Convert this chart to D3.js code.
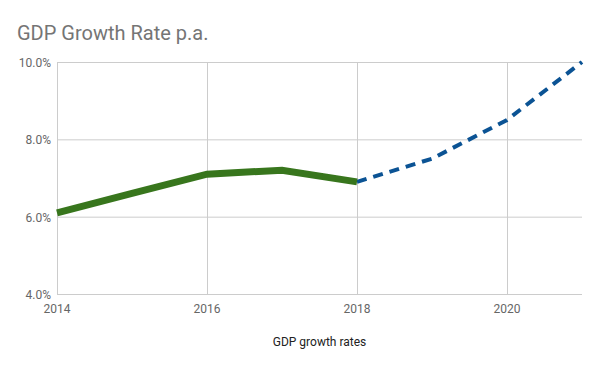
<!DOCTYPE html>
<html><head><meta charset="utf-8">
<script src="https://cdn.jsdelivr.net/npm/d3@7"></script>
<style>body{margin:0;background:#fff;font-family:Roboto,sans-serif}</style>
</head><body><svg id="c" width="600" height="367"></svg>
<script>
const actualYears = [2014, 2015, 2016, 2017, 2018];
const actualValues = [6.1, 6.6, 7.1, 7.2, 6.9];
const forecastYears = [2018, 2019, 2020, 2021];
const forecastValues = [6.9, 7.5, 8.5, 10.0];
const yTicks = [4, 6, 8, 10];
const xTicks = [2014, 2016, 2018, 2020];
const title = "GDP Growth Rate p.a.";
const xTitle = "GDP growth rates";

const svg = d3.select("#c");
const m = {l:57, r:18, t:62, b:73};
const W = 600, H = 367;
const x = d3.scaleLinear().domain([2014, 2021]).range([m.l, W - m.r]);
const y = d3.scaleLinear().domain([4, 10]).range([H - m.b, m.t]);

svg.append("rect").attr("width", W).attr("height", H).attr("fill", "#fff");
svg.append("text").attr("x", 17).attr("y", 40).attr("fill", "#757575")
  .attr("font-size", 20).text(title);

// horizontal grid
svg.append("g").selectAll("line").data(yTicks).join("line")
  .attr("x1", m.l).attr("x2", W - m.r)
  .attr("y1", d => y(d) + 0.5).attr("y2", d => y(d) + 0.5)
  .attr("stroke", "#cccccc");
// vertical grid
svg.append("g").selectAll("line").data(xTicks).join("line")
  .attr("x1", d => Math.round(x(d)) + 0.5).attr("x2", d => Math.round(x(d)) + 0.5)
  .attr("y1", y(10)).attr("y2", y(4))
  .attr("stroke", "#cccccc");

svg.append("g").selectAll("text").data(yTicks).join("text")
  .attr("x", 51).attr("y", d => y(d) + 5).attr("text-anchor", "end")
  .attr("font-size", 12).attr("fill", "#666").text(d => d.toFixed(1) + "%");
svg.append("g").selectAll("text").data(xTicks).join("text")
  .attr("x", d => x(d)).attr("y", 313).attr("text-anchor", "middle")
  .attr("font-size", 12).attr("fill", "#666").text(d => d);
svg.append("text").attr("x", (m.l + W - m.r) / 2).attr("y", 346)
  .attr("text-anchor", "middle").attr("font-size", 12).attr("fill", "#222").text(xTitle);

const line = d3.line().x(d => x(d[0])).y(d => y(d[1]));
svg.append("path").datum(forecastYears.map((v, i) => [v, forecastValues[i]]))
  .attr("d", line).attr("fill", "none").attr("stroke", "#0b5394")
  .attr("stroke-width", 4).attr("stroke-dasharray", "10,7");
svg.append("path").datum(actualYears.map((v, i) => [v, actualValues[i]]))
  .attr("d", line).attr("fill", "none").attr("stroke", "#38761d")
  .attr("stroke-width", 7);
</script></body></html>
